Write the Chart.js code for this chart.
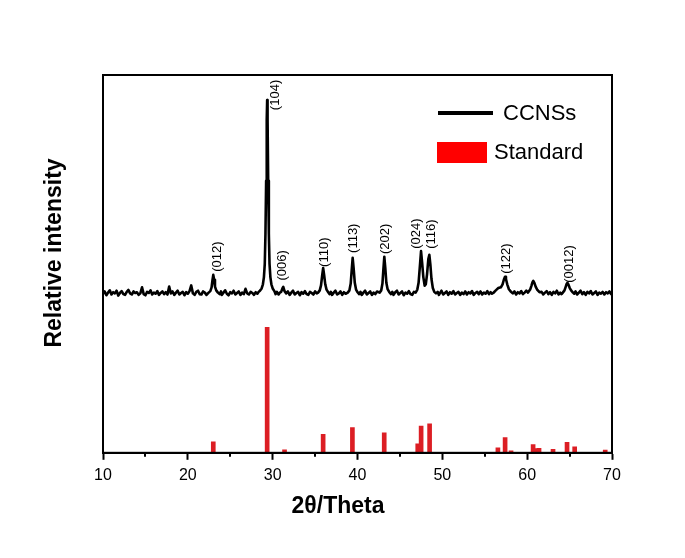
<!DOCTYPE html>
<html>
<head>
<meta charset="utf-8">
<script src="https://cdn.jsdelivr.net/npm/chart.js@4.4.0/dist/chart.umd.min.js"></script>
<style>
  html, body { margin: 0; padding: 0; background: #fff; }
  #wrap { width: 685px; height: 558px; }
</style>
</head>
<body>
<div id="wrap"><canvas id="xrd" width="685" height="558"></canvas></div>
<script>
// measured XRD pattern (2theta, relative intensity incl. offset)
const pattern = [
  [10.0,42.1],[10.2,42.7],[10.4,41.7],[10.6,42.4],[10.8,43.0],[11.0,41.9],[11.2,42.5],[11.4,42.2],[11.6,42.9],[11.8,41.6],
  [12.0,42.3],[12.2,42.8],[12.4,42.0],[12.6,41.8],[12.8,42.6],[13.0,43.1],[13.2,42.2],[13.4,41.9],[13.6,42.7],[13.8,42.3],
  [14.0,42.5],[14.2,41.8],[14.4,42.2],[14.6,43.8],[14.8,42.0],[15.0,41.7],[15.2,42.6],[15.4,42.3],[15.6,43.0],[15.8,41.9],
  [16.0,42.4],[16.2,42.1],[16.4,42.8],[16.6,41.8],[16.8,42.3],[17.0,42.7],[17.2,42.0],[17.4,42.5],[17.6,41.9],[17.8,44.0],
  [18.0,42.2],[18.2,42.7],[18.4,41.8],[18.6,42.4],[18.8,42.9],[19.0,41.9],[19.2,42.3],[19.4,42.6],[19.6,41.7],[19.8,42.5],
  [20.0,42.1],[20.2,42.8],[20.4,44.3],[20.6,42.2],[20.8,41.8],[21.0,42.6],[21.2,42.9],[21.4,42.0],[21.6,41.9],[21.8,42.7],
  [22.0,42.4],[22.2,41.8],
  [22.45,42.4],[22.65,42.8],[22.8,43.8],[22.9,45.6],[23.0,47.1],[23.1,45.8],[23.2,44.0],[23.35,43.0],[23.55,42.4],
  [23.75,42.0],[23.9,42.7],[24.0,41.8],[24.2,42.4],[24.4,43.0],[24.6,42.1],[24.8,41.7],[25.0,42.5],[25.2,42.2],[25.4,42.9],
  [25.6,41.9],[25.8,42.3],[26.0,42.7],[26.2,41.8],[26.4,42.4],[26.6,42.0],[26.8,43.4],[27.0,42.2],[27.2,41.9],[27.4,42.6],
  [27.6,42.3],[27.8,41.8],[28.0,42.5],[28.2,42.1],[28.35,42.6],
  [28.5,42.9],[28.7,43.5],[28.85,44.6],[28.97,46.5],[29.07,50.0],[29.15,58.0],[29.23,72.0],[29.3,88.0],[29.35,93.4],
  [29.4,88.0],[29.47,72.0],[29.55,58.0],[29.63,50.0],[29.73,46.5],[29.85,44.6],[30.0,43.5],[30.2,42.8],
  [30.35,42.0],[30.5,42.6],[30.7,41.9],[30.85,42.4],[31.0,42.6],[31.15,43.5],[31.25,43.9],[31.4,42.8],
  [31.6,42.2],[31.8,42.7],[32.0,41.8],[32.2,42.4],[32.4,42.9],[32.6,41.9],[32.8,42.3],[33.0,42.6],[33.2,41.7],[33.4,42.5],
  [33.6,42.1],[33.8,42.8],[34.0,42.0],[34.2,41.8],[34.4,42.6],[34.6,42.3],[34.8,41.9],[35.0,42.7],[35.2,42.2],
  [35.35,42.4],[35.55,43.0],[35.7,44.3],[35.83,46.8],[35.95,48.9],[36.07,47.0],[36.2,44.6],[36.35,43.2],[36.55,42.5],
  [36.7,42.0],[36.85,42.6],[37.0,41.8],[37.2,42.4],[37.4,42.9],[37.6,41.9],[37.8,42.2],[38.0,42.7],[38.2,41.8],[38.4,42.5],
  [38.6,42.1],
  [38.85,42.4],[39.05,43.0],[39.2,44.8],[39.32,48.4],[39.43,51.6],[39.55,48.7],[39.68,45.0],[39.83,43.2],[40.0,42.5],
  [40.2,42.0],[40.35,42.6],[40.5,41.8],[40.7,42.4],[40.9,42.9],[41.1,41.9],[41.3,42.3],[41.5,42.7],[41.7,41.8],[41.9,42.4],
  [42.1,42.0],[42.3,42.7],
  [42.6,42.4],[42.8,43.0],[42.94,44.8],[43.05,48.5],[43.16,51.9],[43.28,48.8],[43.4,45.0],[43.55,43.3],[43.75,42.5],
  [43.95,42.0],[44.1,42.6],[44.25,41.8],[44.45,42.5],[44.65,42.9],[44.85,41.9],[45.05,42.3],[45.25,42.7],[45.45,41.7],
  [45.65,42.4],[45.85,42.1],[46.05,42.8],[46.25,42.0],[46.45,41.8],[46.65,42.6],
  [46.85,42.4],[47.05,43.2],[47.2,45.0],[47.35,49.3],[47.49,53.4],[47.62,50.3],[47.76,46.5],[47.92,44.2],[48.05,44.6],
  [48.2,47.3],[48.35,51.3],[48.47,52.4],[48.59,49.8],[48.72,46.0],[48.88,43.6],[49.05,42.6],[49.25,42.2],
  [49.45,42.6],[49.6,41.8],[49.75,42.4],[49.9,42.9],[50.1,41.9],[50.3,42.3],[50.5,42.7],[50.7,41.8],[50.9,42.5],[51.1,42.1],
  [51.3,42.8],[51.5,41.9],[51.7,42.3],[51.9,42.6],[52.1,41.8],[52.3,42.4],[52.5,42.0],[52.7,42.7],[52.9,41.9],[53.1,42.5],
  [53.3,42.2],[53.5,42.8],[53.7,41.8],[53.9,42.3],[54.1,42.6],[54.3,42.0],[54.5,42.7],[54.7,41.9],[54.9,42.4],[55.1,42.1],
  [55.3,42.8],[55.5,42.0],[55.7,42.5],[55.85,42.1],
  [56.0,42.3],[56.3,43.0],[56.6,43.6],[56.9,43.8],[57.1,44.6],[57.25,45.8],[57.39,46.6],[57.5,46.0],[57.65,44.6],
  [57.85,43.3],[58.1,42.6],
  [58.3,42.2],[58.5,42.7],[58.7,41.9],[58.9,42.5],[59.1,42.2],[59.3,42.8],[59.5,42.0],[59.7,42.4],[59.9,42.9],
  [60.1,42.4],[60.35,43.2],[60.5,44.2],[60.62,45.1],[60.72,45.5],[60.85,45.0],[61.0,44.0],[61.2,43.1],[61.45,42.5],
  [61.7,42.6],[61.9,41.9],[62.1,42.4],[62.3,42.8],[62.5,42.0],[62.7,42.5],[62.9,41.8],[63.1,42.6],[63.3,42.2],[63.5,42.9],
  [63.7,41.9],[63.9,42.4],[64.05,42.0],
  [64.2,42.4],[64.4,43.0],[64.55,44.0],[64.65,44.7],[64.75,45.0],[64.87,44.5],[65.02,43.6],[65.2,42.9],[65.4,42.4],
  [65.55,42.1],[65.7,42.7],[65.9,41.9],[66.1,42.4],[66.3,42.9],[66.5,42.0],[66.7,42.5],[66.9,41.8],[67.1,42.6],[67.3,42.2],
  [67.5,42.8],[67.7,41.9],[67.9,42.3],[68.1,42.7],[68.3,41.8],[68.5,42.4],[68.7,42.1],[68.9,42.6],[69.1,41.9],[69.3,42.5],
  [69.5,42.2],[69.7,42.7],[69.9,42.0],[70.0,42.3]
];

// standard card lines
const stdPos = [23.0, 29.35, 31.4, 35.95, 39.4, 43.15, 47.1, 47.5, 48.5, 56.55, 57.4, 58.1, 60.7, 61.0, 61.4, 63.05, 64.7, 65.6, 69.2];
const stdInt = [2.9, 33.2, 0.8, 4.9, 6.7, 5.3, 2.4, 7.1, 7.7, 1.3, 4.0, 0.5, 2.2, 1.1, 1.2, 0.9, 2.8, 1.6, 0.7];

// hkl labels: text, x position, y of label foot
const hklText = ['(012)', '(104)', '(006)', '(110)', '(113)', '(202)', '(024)', '(116)', '(122)', '(0012)'];
const hklX    = [23.45, 30.35, 31.15, 36.1, 39.5, 43.25, 46.98, 48.75, 57.5, 64.93];
const hklY    = [47.9, 90.7, 45.6, 49.2, 52.9, 52.6, 54.0, 54.0, 47.4, 45.0];

const xTicks = [10, 20, 30, 40, 50, 60, 70];
const xMinor = [15, 25, 35, 45, 55, 65];

const FONT = '"Liberation Sans", Arial, sans-serif';

const decor = {
  id: 'decor',
  afterDraw(chart) {
    const { ctx, chartArea: a, scales: { x, y } } = chart;
    ctx.save();
    // frame
    ctx.strokeStyle = '#000';
    ctx.lineWidth = 2;
    ctx.strokeRect(a.left, a.top, a.right - a.left, a.bottom - a.top);
    // minor ticks
    xMinor.forEach(v => {
      const px = Math.round(x.getPixelForValue(v));
      ctx.beginPath();
      ctx.moveTo(px, a.bottom);
      ctx.lineTo(px, a.bottom + 4);
      ctx.stroke();
    });
    // hkl labels
    ctx.fillStyle = '#000';
    ctx.font = '13px ' + FONT;
    ctx.textAlign = 'left';
    ctx.textBaseline = 'middle';
    hklText.forEach((t, i) => {
      ctx.save();
      ctx.translate(x.getPixelForValue(hklX[i]), y.getPixelForValue(hklY[i]));
      ctx.rotate(-Math.PI / 2);
      ctx.fillText(t, 0, 0);
      ctx.restore();
    });
    // legend
    const ds = chart.data.datasets;
    ctx.font = '22px ' + FONT;
    ctx.lineWidth = 4;
    ctx.beginPath();
    ctx.moveTo(438, 113);
    ctx.lineTo(493, 113);
    ctx.stroke();
    ctx.fillText(ds[0].label, 503, 114);
    ctx.fillStyle = '#ff0000';
    ctx.fillRect(437, 142, 50, 21);
    ctx.fillStyle = '#000';
    ctx.fillText(ds[1].label, 494, 153);
    // axis titles
    ctx.font = 'bold 23px ' + FONT;
    ctx.textAlign = 'center';
    ctx.fillText('2θ/Theta', 338, 507);
    ctx.save();
    ctx.translate(55, 253);
    ctx.rotate(-Math.PI / 2);
    ctx.fillText('Relative intensity', 0, 0);
    ctx.restore();
    ctx.restore();
  }
};

new Chart(document.getElementById('xrd').getContext('2d'), {
  type: 'bar',
  data: {
    datasets: [{
      type: 'line',
      label: 'CCNSs',
      data: pattern.map(p => ({ x: p[0], y: p[1] })),
      borderColor: '#000',
      borderWidth: 2.6,
      borderJoinStyle: 'round',
      pointRadius: 0,
      tension: 0,
      order: 1
    }, {
      type: 'bar',
      label: 'Standard',
      data: stdPos.map((p, i) => ({ x: p, y: stdInt[i] })),
      backgroundColor: '#dc1e24',
      barThickness: 4,
      order: 2
    }]
  },
  options: {
    responsive: false,
    animation: false,
    layout: { padding: { left: 103, right: 73, top: 75, bottom: 67 } },
    plugins: { legend: { display: false }, tooltip: { enabled: false } },
    scales: {
      x: {
        type: 'linear',
        min: 10,
        max: 70,
        offset: false,
        afterBuildTicks: s => { s.ticks = xTicks.map(v => ({ value: v })); },
        ticks: { color: '#000', font: { family: FONT, size: 16 }, padding: 6, maxRotation: 0 },
        grid: { drawOnChartArea: false, tickLength: 7, tickWidth: 2, tickColor: '#000', offset: false },
        border: { color: '#000', width: 2 }
      },
      y: {
        min: 0,
        max: 100,
        ticks: { display: false },
        grid: { display: false, drawTicks: false },
        border: { color: '#000', width: 2 }
      }
    }
  },
  plugins: [decor]
});
</script>
</body>
</html>
